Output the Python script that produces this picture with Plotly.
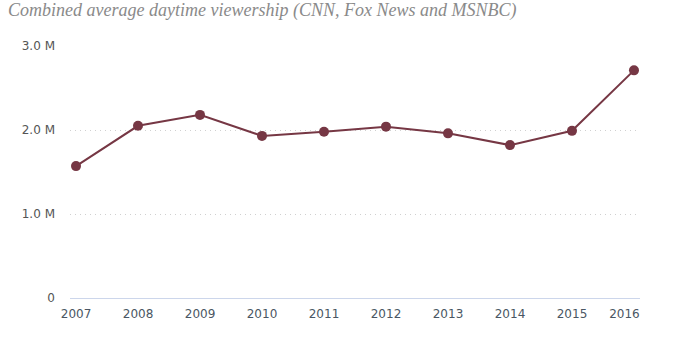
import plotly.graph_objects as go

years = [2007, 2008, 2009, 2010, 2011, 2012, 2013, 2014, 2015, 2016]
year_labels = ["2007", "2008", "2009", "2010", "2011", "2012", "2013", "2014", "2015",
               "2016\u00a0\u00a0\u00a0\u00a0\u00a0"]
viewers_m = [1.57, 2.05, 2.18, 1.93, 1.98, 2.04, 1.96, 1.82, 1.99, 2.71]
y_tickvals = [0, 1, 2, 3]
y_ticktext = ["0", "1.0 M", "2.0 M", "3.0 M"]

color = "#763744"

fig = go.Figure()
fig.add_trace(go.Scatter(
    x=years, y=viewers_m, mode="lines+markers",
    line=dict(color=color, width=2),
    marker=dict(color=color, size=10),
    hoverinfo="x+y", showlegend=False,
))

fig.update_layout(
    width=677, height=350,
    margin=dict(l=70, r=37, t=46, b=52),
    paper_bgcolor="white", plot_bgcolor="white",
    title=dict(
        text="<i>Combined average daytime viewership (CNN, Fox News and MSNBC)</i>",
        x=0.012, xanchor="left", y=0.99, yanchor="top",
        font=dict(family="Liberation Serif", size=18, color="#8a8a8a"),
    ),
    font=dict(family="DejaVu Sans", size=12, color="#555555"),
)

fig.update_xaxes(
    range=[2006.903, 2016.097], tickmode="array", tickvals=years,
    ticktext=year_labels,
    showgrid=False, zeroline=False,
    showline=True, linecolor="#ccd6eb", linewidth=1,
    ticks="", tickfont=dict(family="DejaVu Sans", size=12, color="#4a5663"),
    ticklabelstandoff=5,
)
fig.update_yaxes(
    range=[0, 3], tickmode="array", tickvals=y_tickvals, ticktext=y_ticktext,
    showgrid=True, gridcolor="#d0d0d0", griddash="1px,4px", gridwidth=1,
    zeroline=False, showline=False, ticks="",
    tickfont=dict(family="DejaVu Sans", size=12, color="#555555"),
    ticklabelstandoff=14,
)

fig.write_html("out.html")
